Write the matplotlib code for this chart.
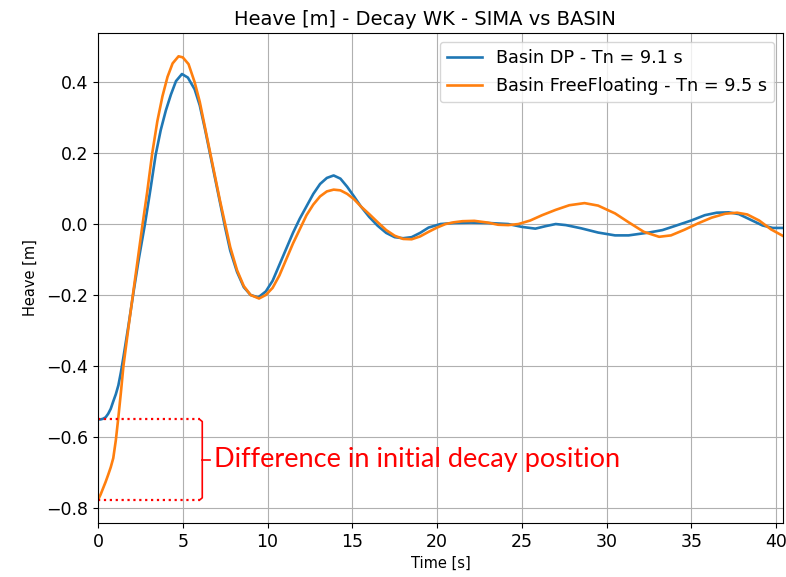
import numpy as np
import matplotlib
matplotlib.use("Agg")
import matplotlib.pyplot as plt

# heave decay
dp_time = [0.0, 0.15, 0.3, 0.45, 0.6, 0.75, 0.9, 1.05, 1.2, 1.35, 1.5, 1.8, 2.1, 2.4, 2.77,
           3.1, 3.4, 3.7, 4.0, 4.3, 4.6, 4.95, 5.3, 5.7, 6.0, 6.3, 6.6, 6.9, 7.2, 7.5, 7.8,
           8.2, 8.6, 9.0, 9.45, 9.9, 10.3, 10.7, 11.1, 11.5, 11.9, 12.3, 12.7, 13.1, 13.5,
           13.9, 14.3, 14.7, 15.1, 15.5, 16.0, 16.5, 17.0, 17.5, 18.0, 18.5, 19.0, 19.5,
           20.2, 21.0, 22.0, 23.0, 24.2, 25.0, 25.8, 26.4, 27.0, 27.6, 28.5, 29.5, 30.5,
           31.3, 32.5, 33.3, 34.0, 35.0, 35.8, 36.5, 37.2, 37.8, 38.5, 39.2, 39.8, 40.5]
dp_heave = [-0.551, -0.551, -0.549, -0.545, -0.535, -0.521, -0.5, -0.48, -0.455, -0.418,
            -0.375, -0.285, -0.19, -0.1, 0.0, 0.1, 0.195, 0.265, 0.32, 0.365, 0.403,
            0.423, 0.413, 0.38, 0.335, 0.27, 0.2, 0.13, 0.06, -0.01, -0.075, -0.135,
            -0.178, -0.2, -0.207, -0.19, -0.16, -0.115, -0.07, -0.025, 0.015, 0.05,
            0.085, 0.113, 0.13, 0.137, 0.128, 0.105, 0.078, 0.05, 0.02, -0.005, -0.025,
            -0.037, -0.04, -0.037, -0.025, -0.01, 0.0, 0.003, 0.004, 0.003, 0.0, -0.008,
            -0.013, -0.006, 0.0, -0.003, -0.012, -0.024, -0.032, -0.032, -0.024, -0.017,
            -0.006, 0.01, 0.025, 0.032, 0.033, 0.028, 0.012, -0.004, -0.011, -0.011]

ff_time = [0.0, 0.15, 0.3, 0.45, 0.6, 0.75, 0.9, 1.05, 1.2, 1.35, 1.5, 1.8, 2.1, 2.4,
           2.63, 2.9, 3.2, 3.5, 3.8, 4.1, 4.4, 4.75, 5.0, 5.34, 5.7, 6.0, 6.3, 6.6, 6.9,
           7.2, 7.5, 7.8, 8.2, 8.6, 9.0, 9.5, 9.9, 10.3, 10.7, 11.1, 11.5, 11.9, 12.3,
           12.7, 13.1, 13.5, 13.9, 14.3, 14.7, 15.1, 15.5, 16.0, 16.5, 17.0, 17.5, 18.0,
           18.5, 19.0, 19.5, 20.0, 20.5, 21.0, 21.5, 22.2, 23.0, 23.6, 24.2, 24.8, 25.5,
           26.2, 27.0, 27.8, 28.7, 29.5, 30.5, 31.3, 32.2, 33.1, 33.8, 34.6, 35.4, 36.2,
           37.0, 37.7, 38.3, 39.0, 39.7, 40.5]
ff_heave = [-0.778, -0.763, -0.745, -0.727, -0.707, -0.686, -0.66, -0.61, -0.545, -0.475,
            -0.4, -0.29, -0.185, -0.08, 0.0, 0.09, 0.2, 0.29, 0.36, 0.415, 0.453, 0.473,
            0.47, 0.451, 0.4, 0.345, 0.275, 0.205, 0.135, 0.065, 0.0, -0.065, -0.13,
            -0.175, -0.2, -0.21, -0.2, -0.18, -0.145, -0.1, -0.055, -0.015, 0.025, 0.055,
            0.078, 0.092, 0.097, 0.095, 0.085, 0.07, 0.05, 0.028, 0.005, -0.017, -0.033,
            -0.042, -0.043, -0.035, -0.022, -0.01, 0.0, 0.005, 0.008, 0.009, 0.004,
            -0.002, -0.003, 0.0, 0.01, 0.025, 0.04, 0.053, 0.059, 0.052, 0.03, 0.005,
            -0.022, -0.036, -0.032, -0.016, 0.002, 0.018, 0.029, 0.032, 0.027, 0.01,
            -0.015, -0.036]

labels = ["Basin DP - Tn = 9.1 s", "Basin FreeFloating - Tn = 9.5 s"]

fig = plt.figure(figsize=(7.86, 5.77), dpi=100)
ax = fig.add_axes([0.1247, 0.0936, 0.8713, 0.8494])

ax.plot(dp_time, dp_heave, color="tab:blue", lw=1.9, label=labels[0])
ax.plot(ff_time, ff_heave, color="tab:orange", lw=1.9, label=labels[1])

ax.set_xlim(0, 40.4)
ax.set_ylim(-0.843, 0.539)
ax.set_xlabel("Time [s]", fontsize=10.5)
ax.set_ylabel("Heave [m]", fontsize=10.5, labelpad=6)
ax.set_title("Heave [m] - Decay WK - SIMA vs BASIN", fontsize=14, x=0.477)
ax.tick_params(labelsize=12.5)
ax.grid(True)
ax.legend(loc="upper right", fontsize=12.7, labelspacing=0.6)

# annotation: gap between the two start positions
y_top, y_bot = dp_heave[0], ff_heave[0]
x_end = 6.0
ax.plot([0, x_end], [y_top, y_top], color="red", ls=":", lw=1.6)
ax.plot([0, x_end], [y_bot, y_bot], color="red", ls=":", lw=1.6)
ax.plot([x_end, 6.15, 6.15, x_end], [y_top, y_top - 0.006, y_bot + 0.006, y_bot],
        color="red", lw=1.2)
y_mid = (y_top + y_bot) / 2
ax.plot([6.15, 6.6], [y_mid, y_mid], color="red", lw=1.2)
ax.text(6.85, y_mid, "Difference in initial decay position", color="red",
        fontsize=19.5, family="Lato", va="center", ha="left")

fig.savefig("out.png", dpi=100)
